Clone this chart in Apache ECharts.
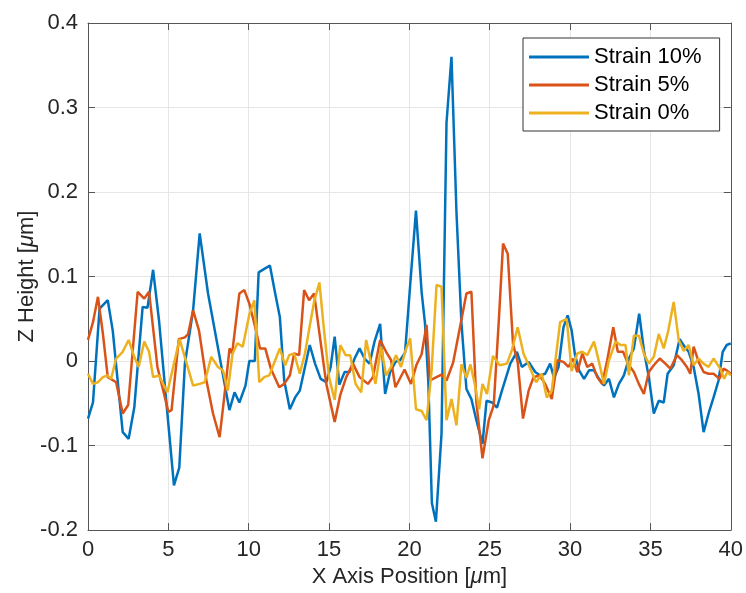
<!DOCTYPE html>
<html>
<head>
  <meta charset="utf-8">
  <script src="https://cdn.jsdelivr.net/npm/echarts@6.0.0/dist/echarts.min.js"></script>
  <style>
    html, body { margin: 0; padding: 0; background: #fff; }
    #chart { width: 746px; height: 593px; }
  </style>
</head>
<body>
  <div id="chart"></div>
  <script>
    // Series names
    const names = ['Strain 10%', 'Strain 5%', 'Strain 0%'];

    // Strain 10%
    const x10 = [0, 0.31, 0.72, 1.23, 1.54, 2.16, 2.53, 2.88, 3.4, 3.7, 4.05, 4.42, 4.94, 5.35, 5.68, 6.03, 6.54, 6.95, 7.47,
      8.5, 8.8, 9.12, 9.42, 9.8, 10.04, 10.38, 10.62, 10.97, 11.32, 11.65, 11.94, 12.21, 12.56, 12.89, 13.18, 13.8, 14.13,
      14.48, 14.83, 15.1, 15.35, 15.64, 15.97, 16.28, 16.59, 16.9, 17.21, 17.52, 17.83, 18.18, 18.49, 18.8, 19.13, 19.42,
      19.73, 20.05, 20.41, 20.76, 20.97, 21.18, 21.4, 21.65, 22.0, 22.31, 22.62, 22.93, 23.24, 23.55, 23.86, 24.17, 24.55,
      24.8, 25.14, 25.45, 25.76, 26.28, 26.69, 27.0, 27.42, 27.83, 28.14, 28.45, 28.76, 29.0, 29.28, 29.59, 29.85, 30.1,
      30.3, 30.56, 30.87, 31.18, 31.49, 31.8, 32.11, 32.42, 32.73, 33.04, 33.35, 33.66, 33.97, 34.3, 34.6, 34.9, 35.21,
      35.52, 35.83, 36.07, 36.45, 36.82, 37.13, 37.38, 37.69, 38.0, 38.31, 38.62, 38.93, 39.24, 39.5, 39.75, 40];
    const y10 = [-0.068, -0.049, 0.062, 0.072, 0.036, -0.084, -0.092, -0.055, 0.064, 0.063, 0.108, 0.048, -0.062, -0.147, -0.126, -0.003, 0.06, 0.151, 0.08,
      -0.027, -0.058, -0.037, -0.049, -0.029, 0, 0, 0.105, 0.109, 0.113, 0.08, 0.052, -0.023, -0.057, -0.043, -0.035, 0.019, -0.003,
      -0.021, -0.025, -0.007, 0.029, -0.028, -0.013, -0.013, 0.003, 0.015, 0.003, -0.003, 0.023, 0.044, -0.039, -0.013, -0.001, 0.001,
      0.01, 0.09, 0.178, 0.082, 0.045, -0.025, -0.168, -0.19, -0.086, 0.282, 0.36, 0.176, 0.045, -0.033, -0.045, -0.07, -0.098,
      -0.047, -0.049, -0.055, -0.035, -0.003, 0.011, -0.007, -0.001, -0.013, -0.017, -0.015, -0.003, -0.02, -0.007, 0.04, 0.054, 0.036,
      0.008, -0.011, -0.021, -0.011, -0.011, -0.021, -0.029, -0.021, -0.043, -0.027, -0.017, 0.003, 0.015, 0.056, 0.012, -0.019, -0.062,
      -0.047, -0.049, -0.015, -0.005, 0.026, 0.017, 0.011, -0.007, -0.039, -0.084, -0.062, -0.043, -0.023, 0.011, 0.019, 0.021];

    // Strain 5%
    const x5 = [0, 0.31, 0.62, 0.93, 1.23, 1.75, 2.16, 2.5, 3.09, 3.5, 3.8, 4.32, 4.63, 5.0, 5.2, 5.65, 6.03, 6.23, 6.54, 6.91,
      7.37, 7.78, 8.19, 8.5, 8.81, 8.97, 9.42, 9.73, 10.04, 10.38, 10.7, 11.03, 11.38, 11.9, 12.21, 12.56, 12.83, 13.14, 13.45,
      13.76, 14.07, 14.38, 14.83, 15.35, 15.7, 16.07, 16.49, 16.9, 17.42, 17.73, 18.18, 18.55, 18.86, 19.13, 19.7, 20.1, 20.45,
      20.76, 21.07, 21.28, 21.59, 22.0, 22.31, 22.72, 23.14, 23.55, 23.86, 24.17, 24.55, 24.94, 25.25, 25.56, 25.83, 26.12,
      26.45, 26.74, 27.07, 27.42, 27.73, 28.1, 28.45, 28.86, 29.21, 29.59, 29.9, 30.17, 30.45, 30.76, 31.07, 31.38, 31.69,
      32.0, 32.31, 32.69, 32.97, 33.3, 33.6, 33.97, 34.28, 34.59, 34.9, 35.21, 35.58, 35.93, 36.24, 36.65, 36.96, 37.27,
      37.48, 37.69, 38.0, 38.31, 38.62, 38.93, 39.3, 39.55, 39.75, 40];
    const y5 = [0.025, 0.046, 0.076, 0.032, -0.019, -0.025, -0.062, -0.052, 0.082, 0.074, 0.082, -0.007, -0.031, -0.06, -0.058, 0.026, 0.028, 0.032, 0.06, 0.036,
      -0.023, -0.062, -0.09, -0.039, 0.015, 0.009, 0.08, 0.084, 0.068, 0.042, 0.015, 0.015, -0.009, -0.031, -0.027, -0.017, 0.009, 0.007, 0.084,
      0.072, 0.08, 0.036, -0.027, -0.072, -0.04, -0.019, -0.003, -0.019, -0.027, -0.019, 0.025, 0.011, 0.001, -0.031, -0.01, -0.027, -0.004,
      0.008, 0.043, -0.023, -0.02, -0.016, -0.023, -0.002, 0.039, 0.08, 0.082, -0.049, -0.115, -0.07, -0.052, 0.046, 0.139, 0.127,
      0.02, -0.001, -0.068, -0.035, -0.019, -0.017, -0.027, -0.045, 0.001, -0.001, -0.007, 0.003, -0.013, 0.009, -0.007, -0.003, -0.019,
      -0.027, 0.001, 0.04, 0.011, 0.011, -0.003, -0.013, -0.027, -0.039, -0.013, -0.005, 0.003, -0.003, -0.009, 0.007, 0.001, -0.007,
      -0.015, 0.017, -0.001, -0.013, -0.015, -0.015, -0.021, -0.009, -0.011, -0.015];

    // Strain 0%
    const x0 = [0, 0.31, 0.62, 0.93, 1.2, 1.44, 1.75, 2.16, 2.53, 2.88, 3.15, 3.5, 3.8, 4.05, 4.42, 4.94, 5.7, 6.54, 6.95, 7.26,
      7.67, 8.09, 8.4, 8.7, 9.0, 9.3, 9.63, 10.04, 10.35, 10.66, 10.97, 11.28, 11.65, 11.94, 12.27, 12.52, 12.83, 13.18, 13.5,
      13.86, 14.07, 14.4, 14.69, 15.0, 15.35, 15.7, 16.03, 16.32, 16.65, 17.0, 17.31, 17.62, 17.89, 18.24, 18.55, 18.86, 19.17,
      19.48, 19.75, 20.05, 20.41, 20.76, 21.07, 21.38, 21.69, 22.0, 22.31, 22.62, 22.93, 23.24, 23.55, 23.8, 24.07, 24.34,
      24.55, 24.83, 25.2, 25.62, 26.07, 26.38, 26.74, 27.1, 27.48, 27.89, 28.24, 28.55, 28.86, 29.38, 29.79, 30.1, 30.45,
      30.76, 31.07, 31.49, 31.8, 32.11, 32.42, 32.83, 33.14, 33.45, 33.66, 33.97, 34.28, 34.59, 34.9, 35.21, 35.52, 35.83,
      36.1, 36.45, 36.76, 37.07, 37.38, 37.69, 38.0, 38.31, 38.62, 38.93, 39.34, 39.59, 39.79, 40];
    const y0 = [-0.015, -0.027, -0.025, -0.019, -0.017, -0.021, 0.003, 0.011, 0.025, 0.005, -0.007, 0.023, 0.011, -0.019, -0.017, -0.037, 0.026, -0.029, -0.027, -0.025,
      0.005, -0.007, -0.011, -0.035, 0.009, 0.021, 0.017, 0.055, 0.072, -0.025, -0.019, -0.017, 0.001, 0.015, -0.005, 0.007, 0.009, -0.015, 0.009,
      0.048, 0.07, 0.093, 0.036, -0.019, -0.046, 0.019, 0.007, 0.007, -0.027, -0.037, 0.025, -0.003, -0.027, 0.017, -0.017, -0.007, 0.007,
      -0.007, 0.012, 0.027, -0.057, -0.059, -0.07, -0.012, 0.09, 0.088, -0.07, -0.045, -0.076, -0.004, -0.02, -0.004, -0.027, -0.057,
      -0.027, -0.039, 0.006, -0.005, -0.003, 0.013, 0.04, 0.009, -0.007, -0.025, -0.015, -0.043, -0.035, 0.046, 0.05, -0.012, 0.009,
      0.011, 0.007, 0.023, -0.001, -0.027, 0.001, 0.023, 0.019, 0.019, -0.017, 0.03, 0.03, 0.009, -0.003, 0.005, 0.032, 0.015,
      0.035, 0.07, 0.025, 0.012, 0.019, -0.005, 0.003, -0.003, -0.007, 0.003, -0.009, -0.021, -0.013, -0.017];

    const colors = ['#0072BD', '#D95319', '#EDB120'];
    const font = 'Liberation Sans, Arial, sans-serif';
    const txt = '#262626';
    const axisCol = '#555';

    const pairs = (xs, ys) => xs.map((x, i) => [x, ys[i]]);
    const fmtY = v => String(+v.toFixed(1));

    var chart = echarts.init(document.getElementById('chart'));

    // Box axes (MATLAB style), ticks inside
    const xBase = {
      type: 'value', min: 0, max: 40, interval: 5,
      axisLine: { show: true, onZero: false, lineStyle: { color: axisCol, width: 1 } },
      axisTick: { show: true, inside: true, length: 7, lineStyle: { color: axisCol } },
      splitLine: { show: false }
    };
    const yBase = {
      type: 'value', min: -0.2, max: 0.4, interval: 0.1,
      axisLine: { show: true, onZero: false, lineStyle: { color: axisCol, width: 1 } },
      axisTick: { show: true, inside: true, length: 7, lineStyle: { color: axisCol } },
      splitLine: { show: false }
    };

    var option = {
      animation: false,
      color: colors,
      grid: { left: 88, right: 15, top: 23, bottom: 62 },
      legend: {
        data: names,
        orient: 'vertical',
        left: 523, top: 38,
        icon: 'rect',
        itemWidth: 60, itemHeight: 3,
        itemGap: 4,
        padding: [7, 18, 6, 6],
        borderColor: '#333', borderWidth: 1,
        backgroundColor: '#fff',
        textStyle: { fontFamily: font, fontSize: 22, color: '#000', lineHeight: 24 }
      },
      xAxis: [
        Object.assign({}, xBase, {
          position: 'bottom',
          name: 'X Axis Position [{i|μ}m]',
          nameLocation: 'middle', nameGap: 34,
          nameTextStyle: { fontFamily: font, fontSize: 22, color: txt,
            rich: { i: { fontFamily: font, fontSize: 22, fontStyle: 'italic', color: txt } } },
          axisLabel: { fontFamily: font, fontSize: 22, color: txt, margin: 9 },
          splitLine: { show: true, lineStyle: { color: '#e6e6e6', width: 1 } }
        }),
        Object.assign({}, xBase, { position: 'top', axisLabel: { show: false } })
      ],
      yAxis: [
        Object.assign({}, yBase, {
          position: 'left',
          name: 'Z Height [{i|μ}m]',
          nameLocation: 'middle', nameGap: 50,
          nameMoveOverlap: false,
          nameTextStyle: { fontFamily: font, fontSize: 22, color: txt,
            rich: { i: { fontFamily: font, fontSize: 22, fontStyle: 'italic', color: txt } } },
          axisLabel: { fontFamily: font, fontSize: 22, color: txt, margin: 10, formatter: fmtY },
          splitLine: { show: true, lineStyle: { color: '#e6e6e6', width: 1 } }
        }),
        Object.assign({}, yBase, { position: 'right', axisLabel: { show: false } })
      ],
      series: [
        { name: names[0], type: 'line', data: pairs(x10, y10), symbol: 'none', lineStyle: { width: 2.5, color: colors[0] } },
        { name: names[1], type: 'line', data: pairs(x5, y5), symbol: 'none', lineStyle: { width: 2.5, color: colors[1] } },
        { name: names[2], type: 'line', data: pairs(x0, y0), symbol: 'none', lineStyle: { width: 2.5, color: colors[2] } }
      ]
    };

    chart.setOption(option);
    window.addEventListener('resize', chart.resize);
  </script>
</body>
</html>
